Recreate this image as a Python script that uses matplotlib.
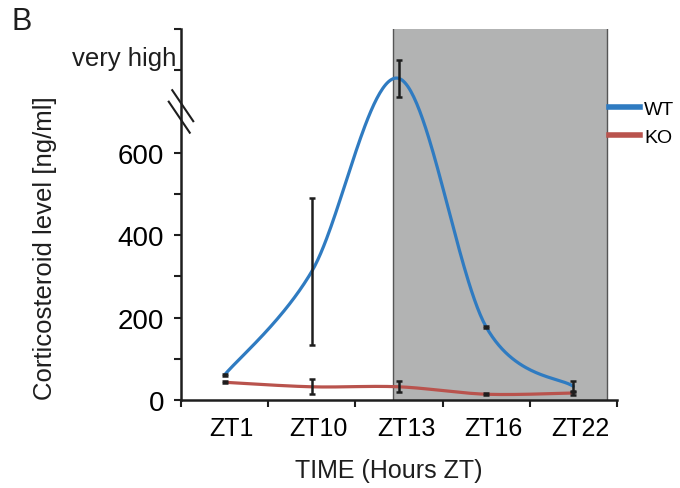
import matplotlib

matplotlib.use("Agg")
import matplotlib.pyplot as plt
import numpy as np
from matplotlib.lines import Line2D
from matplotlib.transforms import IdentityTransform, blended_transform_factory

plt.rcParams["font.family"] = ["Liberation Sans", "DejaVu Sans"]

# serum corticosteroid, mean +/- error per time point
zt_labels = ["ZT1", "ZT10", "ZT13", "ZT16", "ZT22"]
wt_mean = [61, 312, 780, 177, 33]
wt_err = [3, 178, 44, 3, 13]
ko_mean = [43, 32, 32, 14, 17]
ko_err = [2, 18, 13, 3, 4]

# dark phase shading, in category units
dark_start, dark_end = 1.93, 4.385

y_ticks = [0, 200, 400, 600]
y_minor = [100, 300, 500, 800, 900]
very_high = 800
y_break = 700

BLUE, RED = "#2f7bc1", "#b9534d"
SHADE = "#b2b3b3"
INK = "#1e1e1e"


def _smooth(x, y, n=60):
    """Bezier curve through the points, control arms 1/6 of the neighbour chord."""
    pts = np.column_stack([x, y]).astype(float)
    ext = np.vstack([pts[0], pts, pts[-1]])
    t = np.linspace(0, 1, n)[:, None]
    out = []
    for i in range(len(pts) - 1):
        p0, p1, p2, p3 = ext[i], ext[i + 1], ext[i + 2], ext[i + 3]
        c1 = p1 + (p2 - p0) / 6
        c2 = p2 - (p3 - p1) / 6
        seg = (1 - t) ** 3 * p1 + 3 * (1 - t) ** 2 * t * c1 + 3 * (1 - t) * t ** 2 * c2 + t ** 3 * p2
        out.append(seg if i == 0 else seg[1:])
    return np.vstack(out).T


fig = plt.figure(figsize=(6.8, 4.89), dpi=100)
ax = fig.add_axes([181 / 680, 1 - 401 / 489, 436 / 680, 371 / 489])

x = np.arange(len(zt_labels))
ax.axvspan(dark_start, dark_end, ymin=0, ymax=1, facecolor=SHADE, edgecolor="none", zorder=0)
for xe in (dark_start, dark_end):
    ax.axvline(xe, color="#555555", lw=1.0, zorder=0.5)

for mean, err, col in [(wt_mean, wt_err, BLUE), (ko_mean, ko_err, RED)]:
    sx, sy = _smooth(x, mean)
    ax.plot(sx, sy, color=col, lw=2.3, solid_capstyle="round", zorder=2)
    ax.errorbar(x, mean, yerr=err, fmt="none", ecolor=INK, elinewidth=1.8,
                capsize=2.5, capthick=1.8, zorder=3)

ax.set_xlim(-0.5, 4.5)
ax.set_ylim(0, 900)

# category boundaries get the tick marks, names sit between them
ax.set_xticks(np.arange(-0.5, 5, 1.0))
ax.set_xticklabels([])
ax.set_xticks(x + 0.08, minor=True)
ax.set_xticklabels(zt_labels, minor=True, fontsize=18)
ax.tick_params(axis="x", which="major", direction="out", length=5, width=1.5, color=INK)
ax.tick_params(axis="x", which="minor", length=0, pad=11.5)

ax.set_yticks(y_ticks)
ax.set_yticklabels([str(v) for v in y_ticks], fontsize=20)
ax.set_yticks(y_minor, minor=True)
ax.tick_params(axis="y", which="both", direction="out", length=5, width=1.5, color=INK, pad=7)

# label for the off-scale peak, sitting just above its tick
ax.annotate("very high", xy=(0, very_high), xycoords=blended_transform_factory(ax.transAxes, ax.transData),
            xytext=(-3, 4), textcoords="offset points", ha="right", va="baseline",
            fontsize=18.5, color=INK)

for side in ("top", "right"):
    ax.spines[side].set_visible(False)
for side in ("left", "bottom"):
    ax.spines[side].set_linewidth(1.8)
    ax.spines[side].set_color(INK)

# axis break slashes on the left spine
fig.canvas.draw()
bx, by = ax.transData.transform((-0.5, y_break))
for dx, dy in [(1.75, 5.75), (-1.75, -5.75)]:
    cx, cy = bx + dx, by + dy
    fig.add_artist(Line2D([cx - 10.5, cx + 10.5], [cy + 15.5, cy - 15.5],
                          transform=IdentityTransform(), color=INK, lw=1.5))

fig.text(45 / 680, 1 - 248 / 489, "Corticosteroid level [ng/ml]", rotation=90,
         ha="center", va="center", fontsize=18.5, color=INK)
fig.text(389 / 680, 1 - 471 / 489, "TIME (Hours ZT)", ha="center", va="center",
         fontsize=18, color=INK)
fig.text(11 / 680, 1 - 30 / 489, "B", ha="left", va="baseline", fontsize=22, color=INK)

handles = [Line2D([], [], color=BLUE, lw=4), Line2D([], [], color=RED, lw=4)]
fig.legend(handles, ["WT", "KO"], loc="upper left", bbox_to_anchor=(609 / 680, 1 - 101 / 489),
           frameon=False, fontsize=14, handlelength=1.6, handletextpad=0.2,
           labelspacing=0.55, borderpad=0, borderaxespad=0)

fig.savefig("out.png", dpi=100)
